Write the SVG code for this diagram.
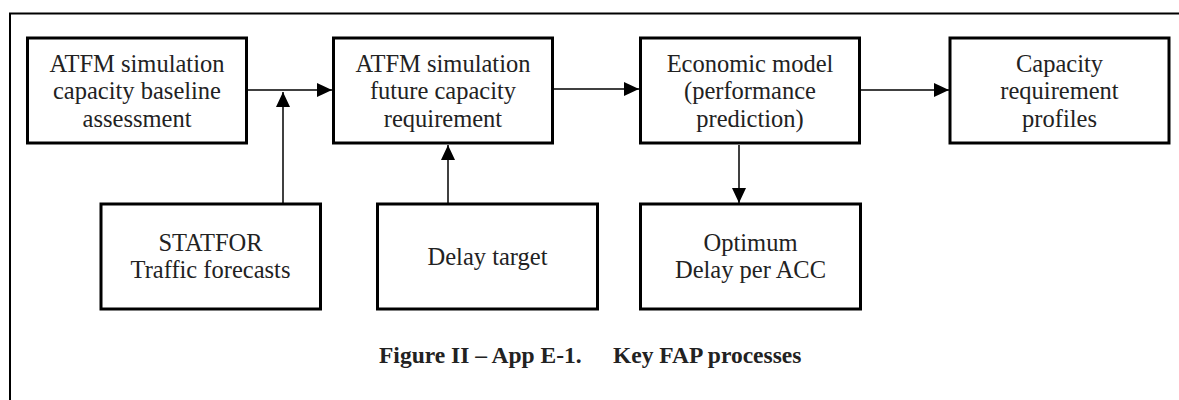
<svg xmlns="http://www.w3.org/2000/svg" width="1179" height="400" viewBox="0 0 1179 400">
<style>
.box{fill:#fff;stroke:#000;stroke-width:3}
.t{font-family:"Liberation Serif","Times New Roman",serif;font-size:24.5px;fill:#222;text-anchor:middle}
.cap{font-family:"Liberation Serif","Times New Roman",serif;font-size:23.5px;font-weight:bold;fill:#222}
.ln{fill:none;stroke:#000;stroke-width:1.5}
</style>
<defs>
<marker id="ah" markerWidth="15" markerHeight="14" refX="15" refY="7" orient="auto" markerUnits="userSpaceOnUse">
<path d="M0,0 L15,7 L0,14 Z" fill="#000"/>
</marker>
</defs>
<rect x="10" y="13.5" width="1190" height="400" fill="#fff" stroke="#000" stroke-width="2"/>
<g id="connectors">
<line class="ln" x1="248" y1="90" x2="332" y2="90" marker-end="url(#ah)"/>
<line class="ln" x1="283" y1="203" x2="283" y2="92" marker-end="url(#ah)"/>
<line class="ln" x1="448" y1="203" x2="448" y2="145" marker-end="url(#ah)"/>
<line class="ln" x1="554" y1="89" x2="639" y2="89" marker-end="url(#ah)"/>
<line class="ln" x1="739" y1="145" x2="739" y2="203" marker-end="url(#ah)"/>
<line class="ln" x1="861" y1="90" x2="949" y2="90" marker-end="url(#ah)"/>
</g>
<g id="n1"><rect class="box" x="27.5" y="38" width="219" height="105"/>
<text class="t" x="137" y="71.5">ATFM simulation</text><text class="t" x="137" y="99">capacity baseline</text><text class="t" x="137" y="126.5">assessment</text></g>
<g id="n2"><rect class="box" x="333.5" y="38" width="219" height="105"/>
<text class="t" x="443" y="71.5">ATFM simulation</text><text class="t" x="443" y="99">future capacity</text><text class="t" x="443" y="126.5">requirement</text></g>
<g id="n3"><rect class="box" x="640.5" y="38" width="219" height="105"/>
<text class="t" x="750" y="71.5">Economic model</text><text class="t" x="750" y="99">(performance</text><text class="t" x="750" y="126.5">prediction)</text></g>
<g id="n4"><rect class="box" x="950" y="38" width="219" height="105"/>
<text class="t" x="1059.5" y="71.5">Capacity</text><text class="t" x="1059.5" y="99">requirement</text><text class="t" x="1059.5" y="126.5">profiles</text></g>
<g id="n5"><rect class="box" x="101" y="204" width="219.5" height="105"/>
<text class="t" x="210.5" y="251">STATFOR</text><text class="t" x="210.5" y="278">Traffic forecasts</text></g>
<g id="n6"><rect class="box" x="377.5" y="204" width="220" height="105"/>
<text class="t" x="487.5" y="264.5">Delay target</text></g>
<g id="n7"><rect class="box" x="640.5" y="204" width="220" height="105"/>
<text class="t" x="750.5" y="251">Optimum</text><text class="t" x="750.5" y="278">Delay per ACC</text></g>
<text class="cap" x="379" y="363">Figure II – App E-1.</text>
<text class="cap" x="613" y="363">Key FAP processes</text>
</svg>
